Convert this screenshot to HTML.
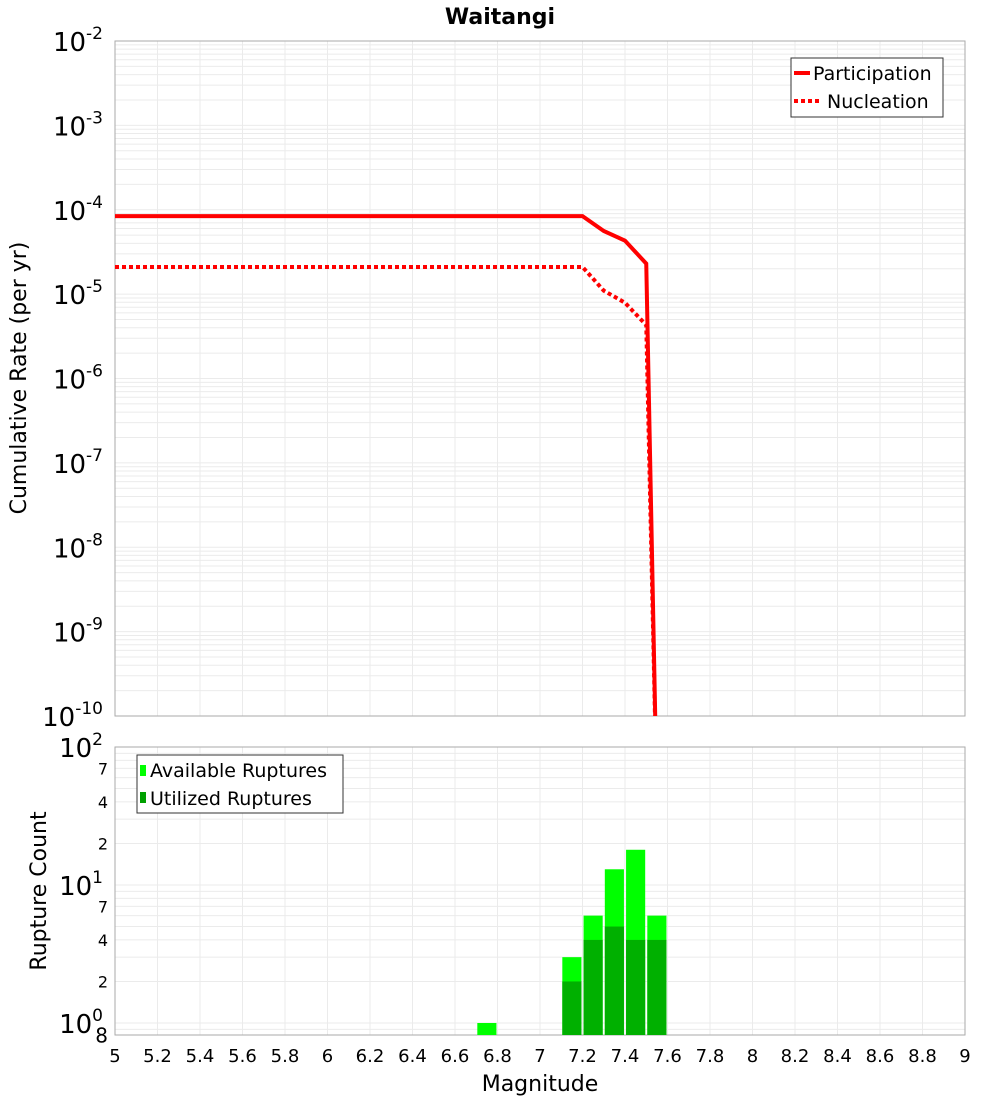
<!DOCTYPE html>
<html><head><meta charset="utf-8"><style>
body{margin:0;background:#fff;font-family:"Liberation Sans","DejaVu Sans",sans-serif}
svg text{font-family:"DejaVu Sans","Liberation Sans",sans-serif}
</style></head><body>
<svg id="c" width="1000" height="1100" xmlns="http://www.w3.org/2000/svg">
<text x="500" y="24" text-anchor="middle" font-size="22" font-weight="bold">Waitangi</text>
<text transform="translate(26,378) rotate(-90)" text-anchor="middle" font-size="22">Cumulative Rate (per yr)</text>
<text transform="translate(46,891) rotate(-90)" text-anchor="middle" font-size="22">Rupture Count</text>
<text x="540" y="1091" text-anchor="middle" font-size="22">Magnitude</text>
<g id="top"></g><g id="bot"></g>
</svg>
<script>
const partMag=[5,7.2,7.3,7.4,7.5,7.55];
const partRate=[8.4e-5,8.4e-5,5.6e-5,4.3e-5,2.3e-5,1e-11];
const nuclMag=[5,7.2,7.3,7.4,7.5,7.55];
const nuclRate=[2.1e-5,2.1e-5,1.1e-5,7.9e-6,4.3e-6,1e-11];
const binMag=[6.75,7.15,7.25,7.35,7.45,7.55];
const availCount=[1,3,6,13,18,6];
const usedCount=[0,2,4,5,4,4];
const xTicks=[5,5.2,5.4,5.6,5.8,6,6.2,6.4,6.6,6.8,7,7.2,7.4,7.6,7.8,8,8.2,8.4,8.6,8.8,9];
const NS='http://www.w3.org/2000/svg';
const svg=document.getElementById('c');
const X0=115,X1=965;
const x=m=>X0+(m-5)/4*(X1-X0);
const T0=41,T1=716;
const yT=v=>T0+(-2-Math.log10(v))*(T1-T0)/8;
const B0=747,B1=1035,BD=138;
const yB=v=>B0+(2-Math.log10(v))*BD;
function el(t,a,p){const e=document.createElementNS(NS,t);for(const k in a)e.setAttribute(k,a[k]);(p||svg).appendChild(e);return e;}
const topG=document.getElementById('top'),botG=document.getElementById('bot');
for(const t of xTicks){
 const g1=el('line',{x1:x(t),x2:x(t),y1:T0,y2:T1,stroke:'#ebebeb'},topG);
 
 const g2=el('line',{x1:x(t),x2:x(t),y1:B0,y2:B1,stroke:'#ebebeb'},botG);
 
 const lb=el('text',{x:x(t),y:1062,'text-anchor':'middle','font-size':18},botG);
 lb.textContent=t;
 
}
for(let d=-10;d<-2;d++)for(let k=1;k<10;k++){
 const v=k*Math.pow(10,d),y=yT(v);
 const l=el('line',{x1:X0,x2:X1,y1:y,y2:y,stroke:'#ebebeb'},topG);
 
}
for(let d=-2;d>=-10;d--){
 const t=el('text',{x:103,y:yT(Math.pow(10,d))+10,'text-anchor':'end','font-size':26},topG);
 t.innerHTML='10<tspan dy="-12" font-size="17">'+d+'</tspan>';
 
}
for(let d=-1;d<2;d++)for(let k=1;k<10;k++){
 const v=k*Math.pow(10,d),y=yB(v);if(y>B1||y<B0)continue;
 const l=el('line',{x1:X0,x2:X1,y1:y,y2:y,stroke:'#ebebeb'},botG);
 
}
[[100,'10','2'],[10,'10','1'],[1,'10','0']].forEach(([v,b,e])=>{
 const t=el('text',{x:103,y:yB(v)+10,'text-anchor':'end','font-size':26},botG);
 t.innerHTML=b+'<tspan dy="-12" font-size="17">'+e+'</tspan>';
 
});
[[70,'7'],[40,'4'],[20,'2'],[7,'7'],[4,'4'],[2,'2'],[0.8,'8']].forEach(([v,s])=>{
 const t=el('text',{x:108,y:yB(v)+6,'text-anchor':'end','font-size':v<1?20:16},botG);
 t.textContent=s;
 
});
let r=el('rect',{x:X0,y:T0,width:X1-X0,height:T1-T0,fill:'none',stroke:'#aaa'},topG);

r=el('rect',{x:X0,y:B0,width:X1-X0,height:B1-B0,fill:'none',stroke:'#aaa'},botG);

const clipP=el('clipPath',{id:'cl'});el('rect',{x:X0,y:T0,width:X1-X0,height:T1-T0},clipP);
let p=el('polyline',{points:partMag.map((m,i)=>x(m)+','+yT(partRate[i])).join(' '),fill:'none',stroke:'#f00','stroke-width':4,'clip-path':'url(#cl)'},topG);

p=el('polyline',{points:nuclMag.map((m,i)=>x(m)+','+yT(nuclRate[i])).join(' '),fill:'none',stroke:'#f00','stroke-width':4,'stroke-dasharray':'4 3','clip-path':'url(#cl)'},topG);

const bw=0.09*(X1-X0)/4;
binMag.forEach((m,i)=>{
 const a=el('rect',{x:x(m)-bw/2,y:yB(availCount[i]),width:bw,height:B1-yB(availCount[i]),fill:'#00ff00'},botG);
 
 if(usedCount[i]>0){
 const u=el('rect',{x:x(m)-bw/2,y:yB(usedCount[i]),width:bw,height:B1-yB(usedCount[i]),fill:'#00b000'},botG);
 }
});
let lg=el('g',{},topG);
el('rect',{x:791,y:58,width:152,height:59,fill:'#fff',stroke:'#333'},lg);
el('line',{x1:794,x2:810,y1:73,y2:73,stroke:'#f00','stroke-width':4},lg);
el('line',{x1:794,x2:822,y1:101,y2:101,stroke:'#f00','stroke-width':4,'stroke-dasharray':'4 3'},lg);
let t=el('text',{x:813,y:80,'font-size':19},lg);t.textContent='Participation';

t=el('text',{x:827,y:108,'font-size':19},lg);t.textContent='Nucleation';

lg=el('g',{},botG);
el('rect',{x:137,y:755,width:206,height:58,fill:'#fff',stroke:'#333'},lg);
el('rect',{x:140,y:765,width:6,height:11,fill:'#00ff00'},lg);
el('rect',{x:140,y:792,width:6,height:11,fill:'#00a000'},lg);
t=el('text',{x:150,y:777,'font-size':19},lg);t.textContent='Available Ruptures';

t=el('text',{x:150,y:805,'font-size':19},lg);t.textContent='Utilized Ruptures';

</script>
</body></html>
